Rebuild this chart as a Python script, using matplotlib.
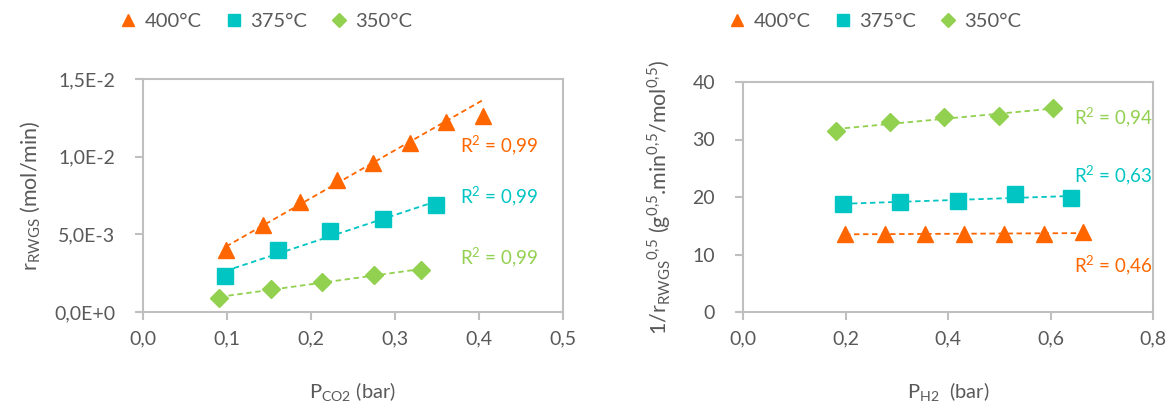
import numpy as np
import matplotlib
matplotlib.use('Agg')
from matplotlib import pyplot as plt

plt.rcParams['font.family'] = ['Lato', 'DejaVu Sans']
plt.rcParams['mathtext.fontset'] = 'custom'
plt.rcParams['mathtext.rm'] = 'Lato'

# temperatures / legend
labels = ['400°C', '375°C', '350°C']
colors = ['#FF6600', '#00C5C3', '#92D050']
markers = ['^', 's', 'D']
msizes = [12, 11, 9]

# left panel: r_RWGS vs P_CO2
pco2_400 = [0.099, 0.143, 0.187, 0.231, 0.274, 0.318, 0.361, 0.405]
r_400 = [0.0040, 0.0056, 0.0071, 0.0085, 0.0096, 0.0109, 0.0122, 0.0126]
pco2_375 = [0.098, 0.161, 0.223, 0.286, 0.349]
r_375 = [0.0023, 0.0040, 0.0052, 0.0060, 0.0069]
pco2_350 = [0.091, 0.152, 0.213, 0.275, 0.331]
r_350 = [0.0009, 0.0015, 0.0019, 0.0024, 0.0027]
r2_left = ['0,99', '0,99', '0,99']

# right panel: 1/r^0.5 vs P_H2
ph2_400 = [0.199, 0.277, 0.355, 0.432, 0.510, 0.587, 0.663]
inv_400 = [13.6, 13.6, 13.5, 13.5, 13.6, 13.6, 13.9]
ph2_375 = [0.195, 0.306, 0.420, 0.530, 0.640]
inv_375 = [18.8, 19.1, 19.3, 20.5, 19.8]
ph2_350 = [0.181, 0.287, 0.393, 0.500, 0.605]
inv_350 = [31.5, 33.0, 34.0, 34.1, 35.4]
r2_right = ['0,46', '0,63', '0,94']

left_xticks = [0.0, 0.1, 0.2, 0.3, 0.4, 0.5]
left_xlabels = ['0,0', '0,1', '0,2', '0,3', '0,4', '0,5']
left_yticks = [0.0, 0.005, 0.010, 0.015]
left_ylabels = ['0,0E+0', '5,0E-3', '1,0E-2', '1,5E-2']
right_xticks = [0.0, 0.2, 0.4, 0.6, 0.8]
right_xlabels = ['0,0', '0,2', '0,4', '0,6', '0,8']
right_yticks = [0, 10, 20, 30, 40]
right_ylabels = ['0', '10', '20', '30', '40']

GRAY = '#BFBFBF'
TXT = '#595959'


def style(ax):
    for s in ax.spines.values():
        s.set_color(GRAY)
        s.set_linewidth(1.5)
    ax.tick_params(axis='both', colors=GRAY, width=1.5, length=6,
                   labelcolor=TXT, labelsize=14)
    ax.tick_params(axis='y', pad=14)
    ax.tick_params(axis='x', pad=7)


def trend(ax, x, y, color, nfit=None):
    x = np.asarray(x)
    y = np.asarray(y)
    n = nfit or len(x)
    k, b = np.polyfit(x[:n], y[:n], 1)
    xx = np.array([x.min(), x.max()])
    ax.plot(xx, k * xx + b, ls=(0, (3, 2)), lw=1.3, color=color, zorder=3)


fig = plt.figure(figsize=(11.76, 4.12), dpi=100)
ax1 = fig.add_axes([143 / 1176, 100 / 412, 420 / 1176, 233 / 412])
ax2 = fig.add_axes([743 / 1176, 100 / 412, 410 / 1176, 230 / 412])

left = [(pco2_400, r_400), (pco2_375, r_375), (pco2_350, r_350)]
right = [(ph2_400, inv_400), (ph2_375, inv_375), (ph2_350, inv_350)]

for i, (x, y) in enumerate(left):
    ax1.plot(x, y, ls='none', marker=markers[i], ms=msizes[i], color=colors[i],
             label=labels[i], zorder=4)
    trend(ax1, x, y, colors[i], nfit=7 if i == 0 else None)

for i, (x, y) in enumerate(right):
    ax2.plot(x, y, ls='none', marker=markers[i], ms=msizes[i], color=colors[i],
             label=labels[i], zorder=4)
    trend(ax2, x, y, colors[i])

# R² labels
for i, yv in enumerate([0.0107, 0.0074, 0.0035]):
    ax1.text(0.377, yv, 'R$^2$ = ' + r2_left[i], color=colors[i], fontsize=13.5,
             va='center', ha='left')
for i, yv in enumerate([8.0, 23.6, 33.7]):
    ax2.text(0.645, yv, 'R$^2$ = ' + r2_right[i], color=colors[i], fontsize=13.5,
             va='center', ha='left')

ax1.set_xlim(0, 0.5)
ax1.set_ylim(0, 0.015)
ax1.set_xticks(left_xticks, left_xlabels)
ax1.set_yticks(left_yticks, left_ylabels)
ax1.set_xlabel(r'P$_{\mathregular{CO2}}$ (bar)', fontsize=14.5, color=TXT, labelpad=24)
ax1.set_ylabel(r'r$_{\mathregular{RWGS}}$ (mol/min)', fontsize=15.5, color=TXT, labelpad=8)

ax2.set_xlim(0, 0.8)
ax2.set_ylim(0, 40)
ax2.set_xticks(right_xticks, right_xlabels)
ax2.set_yticks(right_yticks, right_ylabels)
ax2.set_xlabel(r'P$_{\mathregular{H2}}$  (bar)', fontsize=14.5, color=TXT, labelpad=24)
ax2.set_ylabel(r'1/r$_{\mathregular{RWGS}}{}^{\mathregular{0{,}5}}$ '
               r'(g$^{\mathregular{0{,}5}}$.min$^{\mathregular{0{,}5}}$/mol$^{\mathregular{0{,}5}}$)',
               fontsize=15.5, color=TXT, labelpad=14)

for ax in (ax1, ax2):
    style(ax)

ax1.legend(loc='center', bbox_to_anchor=(265 / 1176, 1 - 21 / 412), bbox_transform=fig.transFigure,
           ncol=3, frameon=False, fontsize=14.5, labelcolor=TXT, handletextpad=0.3,
           columnspacing=1.1, handlelength=1.0, markerscale=0.75)
ax2.legend(loc='center', bbox_to_anchor=(874 / 1176, 1 - 21 / 412), bbox_transform=fig.transFigure,
           ncol=3, frameon=False, fontsize=14.5, labelcolor=TXT, handletextpad=0.3,
           columnspacing=1.1, handlelength=1.0, markerscale=0.75)

fig.savefig('out.png', dpi=100)
